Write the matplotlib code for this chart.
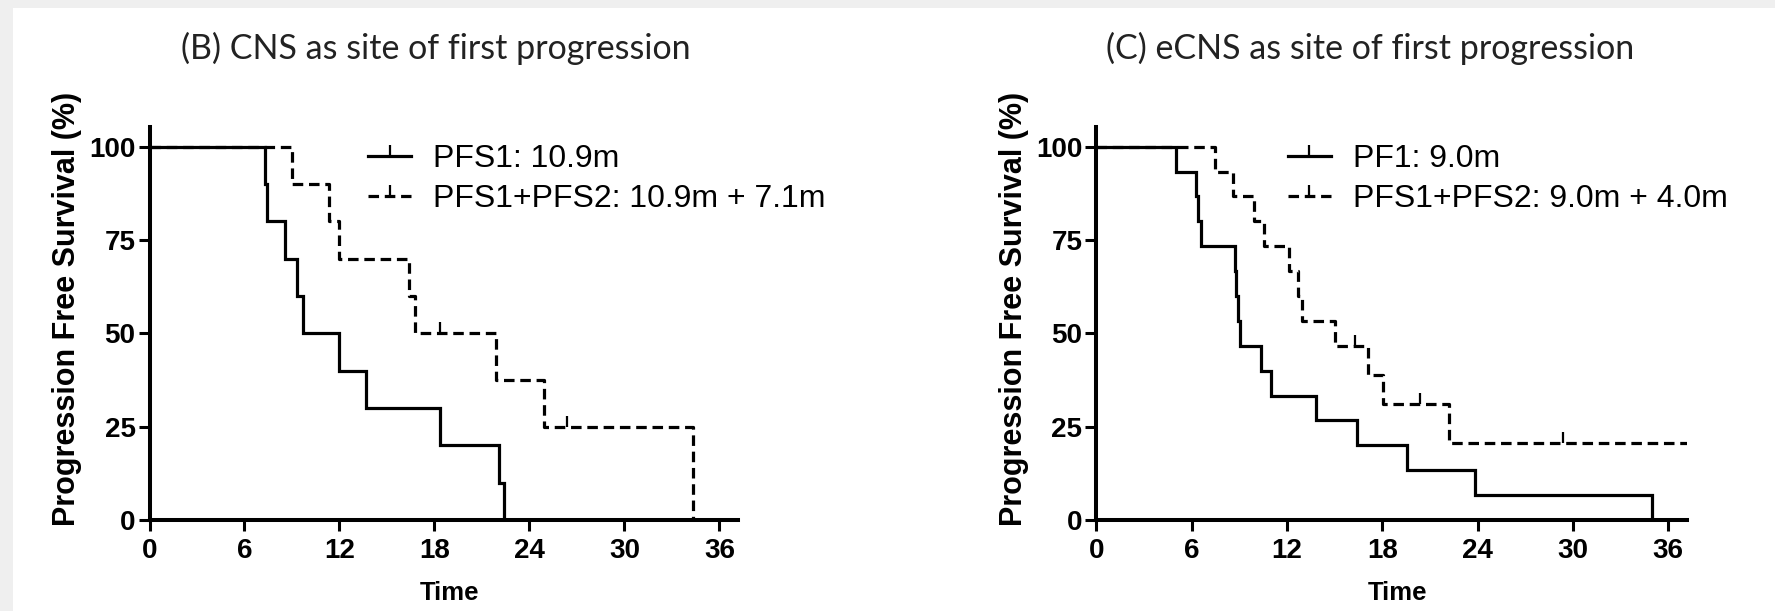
import numpy as np
import matplotlib.pyplot as plt
from matplotlib.lines import Line2D
from matplotlib.patches import Rectangle

# --- DATOS ---
# (B) CNS como sitio de primera progresión, n = 10
b_pfs1_t = [0, 7.3, 7.4, 8.55, 9.3, 9.7, 12.0, 13.7, 18.35, 22.1, 22.4]
b_pfs1_s = [100, 90, 80, 70, 60, 50, 40, 30, 20, 10, 0]
b_pfs12_t = [0, 9.0, 11.35, 12.0, 16.4, 16.75, 21.9, 24.95, 34.35]
b_pfs12_s = [100, 90, 80, 70, 60, 50, 37.5, 25, 0]
b_pfs12_cens = [18.35, 26.35]

# (C) eCNS como sitio de primera progresión, n = 15
c_pf1_t = [0, 5.0, 6.25, 6.4, 6.6, 8.7, 8.8, 8.9, 9.05, 10.35, 11.0, 13.85, 16.4, 19.55, 23.85, 34.95]
c_pf1_s = [100, 93.3, 86.7, 80, 73.3, 66.7, 60, 53.3, 46.7, 40, 33.3, 26.7, 20, 13.3, 6.7, 0]
c_pfs12_t = [0, 7.5, 8.6, 9.9, 10.55, 12.1, 12.7, 12.95, 15.0, 17.1, 18.05, 22.2, 37.2]
c_pfs12_s = [100, 93.3, 86.7, 80, 73.3, 66.7, 60, 53.3, 46.7, 38.9, 31.1, 20.7, 20.7]
c_pfs12_cens = [16.3, 20.4, 29.4]

titles = ["(B) CNS as site of first progression", "(C) eCNS as site of first progression"]
labels_b = ["PFS1: 10.9m", "PFS1+PFS2: 10.9m + 7.1m"]
labels_c = ["PF1: 9.0m", "PFS1+PFS2: 9.0m + 4.0m"]
xticks = [0, 6, 12, 18, 24, 30, 36]
yticks = [0, 25, 50, 75, 100]

# --- ESTILO ---
plt.rcParams['font.family'] = ['Liberation Sans', 'DejaVu Sans']
LW = 2.3
DASH = (0, (3.3, 1.8))
W, H = 1775, 611

fig = plt.figure(figsize=(W / 100, H / 100), dpi=100, facecolor='#efefef')
fig.patches.append(Rectangle((13 / W, 0), 1, 1 - 8 / H, transform=fig.transFigure,
                             facecolor='white', edgecolor='none', zorder=-10))


def nivel(t, s, c):
    i = np.searchsorted(t, c, side='right') - 1
    return s[i]


def panel(rect, t1, s1, t2, s2, cens, labels, title, title_x, leg_x):
    ax = fig.add_axes(rect)
    ax.patch.set_alpha(0)
    ax.step(t1, s1, where='post', color='k', lw=LW, solid_joinstyle='miter')
    ax.step(t2, s2, where='post', color='k', lw=LW, ls=DASH)
    cy = [nivel(np.array(t2), np.array(s2), c) for c in cens]
    ax.plot(cens, cy, ls='none', marker=2, ms=8, mew=1.6, color='k')

    ax.set_xlim(0, 37.2)
    ax.set_ylim(0, 105.3)
    ax.set_xticks(xticks)
    ax.set_yticks(yticks)
    for s in ['top', 'right']:
        ax.spines[s].set_visible(False)
    for s in ['left', 'bottom']:
        ax.spines[s].set_linewidth(2.9)
    ax.tick_params(width=2.2, length=8, labelsize=20, pad=2)
    ax.tick_params(axis='x', pad=5)
    for lab in ax.get_xticklabels() + ax.get_yticklabels():
        lab.set_fontweight('bold')

    ax.set_xlabel("Time", fontsize=18.5, fontweight='bold')
    ax.xaxis.set_label_coords(0.51, -0.155)
    ax.set_ylabel("Progression Free Survival (%)", fontsize=22, fontweight='bold')
    ax.yaxis.set_label_coords(-0.114, 0.536)

    h1 = Line2D([], [], color='k', lw=LW, marker=2, ms=8, mew=1.6)
    h2 = Line2D([], [], color='k', lw=LW, ls=DASH, marker=2, ms=8, mew=1.6)
    ax.legend([h1, h2], labels, loc='upper left', bbox_to_anchor=(leg_x, 0.956),
              frameon=False, fontsize=23, handlelength=1.35, handletextpad=0.7,
              labelspacing=0.3, borderpad=0, borderaxespad=0, numpoints=1)

    fig.text(title_x, 1 - 48 / H, title, ha='center', va='center', fontsize=24.5,
             family='Lato', color='#222222')
    return ax


panel([149.5 / W, 91 / H, 588.9 / W, 393 / H], b_pfs1_t, b_pfs1_s, b_pfs12_t, b_pfs12_s,
      b_pfs12_cens, labels_b, titles[0], 436 / W, 0.371)
panel([1096.3 / W, 91 / H, 591.1 / W, 393 / H], c_pf1_t, c_pf1_s, c_pfs12_t, c_pfs12_s,
      c_pfs12_cens, labels_c, titles[1], 1370 / W, 0.324)

fig.savefig("out.png", dpi=100, facecolor=fig.get_facecolor())
